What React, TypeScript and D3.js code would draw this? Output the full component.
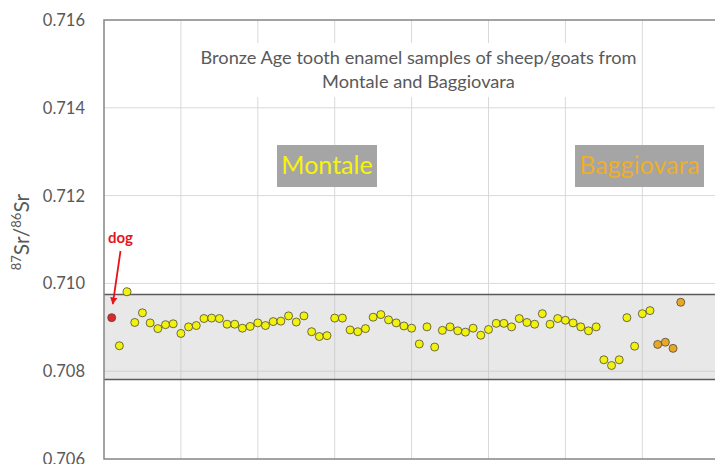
import React from 'react'
import * as d3 from 'd3'

// values, one per sample, in plotting order
const dogValues = [0.70922]
const montaleValues = [
  0.70858, 0.70981, 0.70911, 0.70933, 0.70910, 0.70897, 0.70906, 0.70908, 0.70886, 0.70901,
  0.70904, 0.70920, 0.70921, 0.70920, 0.70907, 0.70907, 0.70898, 0.70902, 0.70910, 0.70904,
  0.70913, 0.70914, 0.70926, 0.70912, 0.70926, 0.70890, 0.70879, 0.70881, 0.70921, 0.70921,
  0.70894, 0.70890, 0.70897, 0.70923, 0.70929, 0.70917, 0.70910, 0.70903, 0.70898, 0.70862,
  0.70901, 0.70855, 0.70893, 0.70901, 0.70892, 0.70889, 0.70898, 0.70882, 0.70895, 0.70909,
  0.70909, 0.70901, 0.70920, 0.70911, 0.70907, 0.70931, 0.70907, 0.70920, 0.70916, 0.70910,
  0.70901, 0.70892, 0.70901, 0.70826, 0.70813, 0.70826, 0.70922, 0.70857, 0.70931, 0.70938
]
const baggiovaraValues = [0.70861, 0.70866, 0.70852, 0.70957]

const yTicks = [0.706, 0.708, 0.710, 0.712, 0.714, 0.716]
const xGridTicks = [10, 20, 30, 40, 50, 60, 70, 80]
const localRange = [0.70781, 0.70975] // shaded band
const titleLines = ['Bronze Age tooth enamel samples of sheep/goats from', 'Montale and Baggiovara']
const siteLabels = ['Montale', 'Baggiovara']

const FONT = 'Lato, "Open Sans", sans-serif'
const TEXT_GREY = '#595959'

class StrontiumChart extends React.Component<any> {
  static defaultProps = { width: 715, height: 464 }
  root = React.createRef<HTMLDivElement>()

  createChart () {
    const { width, height } = this.props
    const root = d3.select(this.root.current)
    root.selectAll('*').remove()

    const svg = root.append('svg')
      .attr('width', width)
      .attr('height', height)
      .style('position', 'absolute')
      .style('left', 0)
      .style('top', 0)
      .style('background', '#fff')

    const left = 104
    const top = 20
    const bottom = 459

    const x = d3.scaleLinear().domain([0, 80]).range([left, left + 80 * 7.69])
    const y = d3.scaleLinear().domain([0.706, 0.716]).range([bottom, top])
    const right = x(80)

    const chart = svg.append('g')

    // gridlines
    chart.append('g').selectAll('line')
      .data(yTicks.slice(1, -1))
      .enter().append('line')
        .attr('x1', left).attr('x2', right)
        .attr('y1', d => y(d)).attr('y2', d => y(d))
        .attr('stroke', '#d9d9d9').attr('stroke-width', 1)
    chart.append('g').selectAll('line')
      .data(xGridTicks.slice(0, -1))
      .enter().append('line')
        .attr('x1', d => x(d)).attr('x2', d => x(d))
        .attr('y1', top).attr('y2', bottom)
        .attr('stroke', '#d9d9d9').attr('stroke-width', 1)

    // local baseline band
    chart.append('rect')
      .attr('x', left).attr('width', right - left)
      .attr('y', y(localRange[1]))
      .attr('height', y(localRange[0]) - y(localRange[1]))
      .attr('fill', 'rgb(190,190,190)')
      .attr('fill-opacity', 0.35)
    chart.append('g').selectAll('line')
      .data(localRange)
      .enter().append('line')
        .attr('x1', left).attr('x2', right)
        .attr('y1', d => y(d)).attr('y2', d => y(d))
        .attr('stroke', '#5a5a5a').attr('stroke-width', 1.5)

    // plot area border
    chart.append('rect')
      .attr('x', left).attr('y', top)
      .attr('width', right - left).attr('height', bottom - top)
      .attr('fill', 'none')
      .attr('stroke', '#858585').attr('stroke-width', 1.5)

    // title box
    chart.append('rect')
      .attr('x', 195).attr('y', 43).attr('width', 446).attr('height', 54)
      .attr('fill', '#fff')
    chart.append('text')
      .attr('x', 418.5).attr('y', 64)
      .attr('text-anchor', 'middle')
      .attr('font-family', FONT).attr('font-size', 18.2)
      .attr('fill', TEXT_GREY)
      .selectAll('tspan')
      .data(titleLines)
      .enter().append('tspan')
        .attr('x', 418.5)
        .attr('dy', (d, i) => i === 0 ? 0 : 24)
        .text(d => d)

    // site label boxes
    const boxes = [
      { label: siteLabels[0], x0: 277, x1: 377, color: '#f4f40c' },
      { label: siteLabels[1], x0: 575, x1: 704, color: '#eeae2a' }
    ]
    const box = chart.append('g').selectAll('g')
      .data(boxes)
      .enter().append('g')
    box.append('rect')
      .attr('x', d => d.x0).attr('y', 145)
      .attr('width', d => d.x1 - d.x0).attr('height', 42)
      .attr('fill', '#a5a5a5')
    box.append('text')
      .attr('x', d => (d.x0 + d.x1) / 2).attr('y', 174)
      .attr('text-anchor', 'middle')
      .attr('font-family', FONT).attr('font-size', 25)
      .attr('fill', d => d.color)
      .text(d => d.label)

    // samples
    const points = [
      ...dogValues.map(v => ({ v, fill: '#e3262b' })),
      ...montaleValues.map(v => ({ v, fill: '#f2f20e' })),
      ...baggiovaraValues.map(v => ({ v, fill: '#e9a72a' }))
    ]
    chart.append('g').selectAll('circle')
      .data(points)
      .enter().append('circle')
        .attr('cx', (d, i) => x(i + 1))
        .attr('cy', d => y(d.v))
        .attr('r', 4)
        .attr('fill', d => d.fill)
        .attr('stroke', '#4a4a3a')
        .attr('stroke-width', 0.8)

    // dog annotation
    const red = '#e8141c'
    svg.append('defs').append('marker')
      .attr('id', 'arrow')
      .attr('viewBox', '0 0 10 10')
      .attr('refX', 9).attr('refY', 5)
      .attr('markerWidth', 4).attr('markerHeight', 4)
      .attr('orient', 'auto')
      .append('path')
        .attr('d', 'M0,0L10,5L0,10z')
        .attr('fill', red)
    chart.append('text')
      .attr('x', 108).attr('y', 243)
      .attr('font-family', FONT).attr('font-size', 15).attr('font-weight', 'bold')
      .attr('fill', red)
      .text('dog')
    chart.append('line')
      .attr('x1', 120.5).attr('y1', 251)
      .attr('x2', 112.8).attr('y2', 304)
      .attr('stroke', red).attr('stroke-width', 1.8)
      .attr('marker-end', 'url(#arrow)')

    // y axis labels
    chart.append('g').selectAll('text')
      .data(yTicks)
      .enter().append('text')
        .attr('x', 85)
        .attr('y', d => y(d) + 6)
        .attr('text-anchor', 'end')
        .attr('font-family', FONT).attr('font-size', 16.5)
        .attr('fill', TEXT_GREY)
        .text(d => d3.format('.3f')(d))

    const yTitle = chart.append('text')
      .attr('transform', 'translate(29,232) rotate(-90)')
      .attr('text-anchor', 'middle')
      .attr('font-family', FONT).attr('font-size', 21)
      .attr('fill', TEXT_GREY)
    yTitle.append('tspan').attr('font-size', 13).attr('dy', -8).text('87')
    yTitle.append('tspan').attr('dy', 8).text('Sr/')
    yTitle.append('tspan').attr('font-size', 13).attr('dy', -8).text('86')
    yTitle.append('tspan').attr('dy', 8).text('Sr')
  }

  componentDidMount () {
    this.createChart()
  }

  componentWillUnmount () {
    d3.select(this.root.current).selectAll('*').remove()
  }

  render () {
    return <div ref={this.root} />
  }
}

export default function App () {
  return <StrontiumChart />
}
